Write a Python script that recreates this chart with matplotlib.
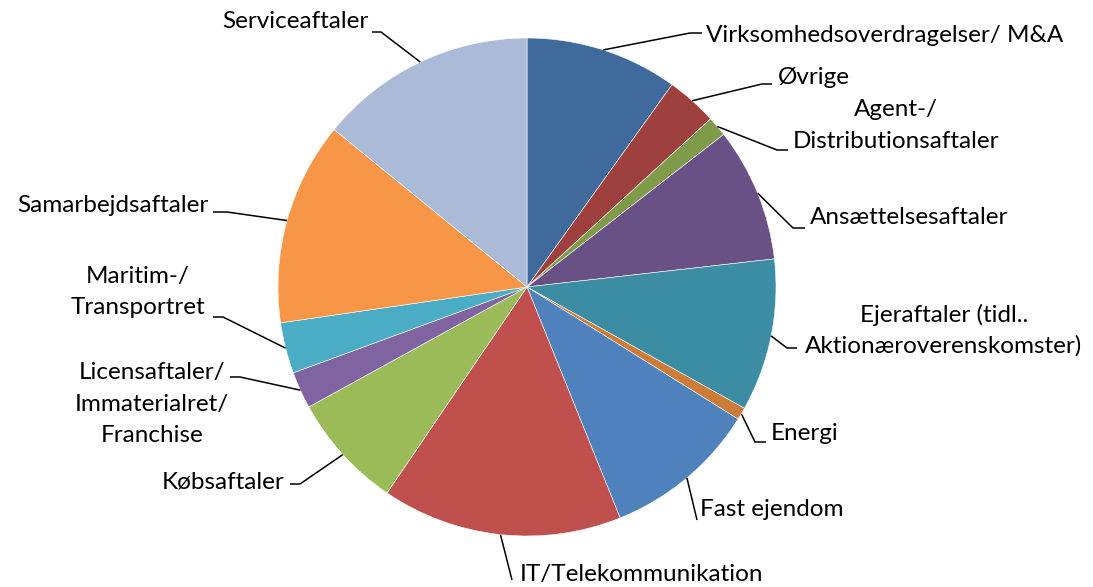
import matplotlib.pyplot as plt
import numpy as np

# ================ DATA =================
labels = [
    "Virksomhedsoverdragelser/ M&A",
    "Øvrige",
    "Agent-/\nDistributionsaftaler",
    "Ansættelsesaftaler",
    "Ejeraftaler (tidl..\nAktionæroverenskomster)",
    "Energi",
    "Fast ejendom",
    "IT/Telekommunikation",
    "Købsaftaler",
    "Licensaftaler/\nImmaterialret/\nFranchise",
    "Maritim-/\nTransportret",
    "Samarbejdsaftaler",
    "Serviceaftaler",
]
shares = [9.9, 3.3, 1.3, 8.7, 9.9, 0.8, 10.0, 15.6, 7.5, 2.4, 3.3, 13.2, 14.1]
colors = ["#40699C", "#9E413E", "#7F9A48", "#695185", "#3C8DA3", "#CC7B38",
          "#4F81BD", "#C0504D", "#9BBB59", "#8064A2", "#4BACC6", "#F79646",
          "#AABAD7"]

# ================ LAYOUT (pixels, top-left origin) =================
W, H = 1093, 587
cx, cy, rad = 527, 287, 249
# elbow point, end of horizontal stub, text anchor x, first-line y, ha
leaders = [
    ((690, 33), (702, 33), 706, 35, "left"),
    ((762, 84), (772, 84), 778, 77, "left"),
    ((777, 150), (788, 150), 896, 110, "center"),
    ((793, 228), (805, 228), 810, 218, "left"),
    ((787, 348), (797, 348), 944, 315, "center"),
    ((755, 442), (766, 442), 771, 433, "left"),
    ((697, 520), (697, 520), 700, 510, "left"),
    ((512, 580), (512, 580), 520, 575, "left"),
    ((300, 484), (290, 484), 285, 482, "right"),
    ((240, 377), (230, 377), 152, 373, "center"),
    ((223, 317), (213, 317), 138, 277, "center"),
    ((227, 212), (213, 212), 208, 205, "right"),
    ((381, 32), (372, 32), 368, 22, "right"),
]
line_step = 31

plt.rcParams['font.family'] = ['Lato', 'DejaVu Sans']

fig = plt.figure(figsize=(W / 100, H / 100), dpi=100)
ax = fig.add_axes([0, 0, 1, 1])

wedges, _ = ax.pie(shares, colors=colors, startangle=90, counterclock=False,
                   center=(cx, H - cy), radius=rad,
                   wedgeprops=dict(edgecolor="white", linewidth=0.4))
ax.set_xlim(0, W)
ax.set_ylim(0, H)
ax.set_aspect("equal")
ax.axis("off")

for w, lab, (elbow, end, tx, ty, ha) in zip(wedges, labels, leaders):
    mid = np.deg2rad((w.theta1 + w.theta2) / 2)
    sx = cx + rad * np.cos(mid)
    sy = (H - cy) + rad * np.sin(mid)
    ax.plot([sx, elbow[0], end[0]], [sy, H - elbow[1], H - end[1]],
            color="black", lw=1.1, solid_capstyle="butt")
    for k, part in enumerate(lab.split("\n")):
        ax.text(tx, H - (ty + k * line_step), part, ha=ha, va="center",
                fontsize=17.5, color="black")

fig.savefig("out.png", dpi=100)
